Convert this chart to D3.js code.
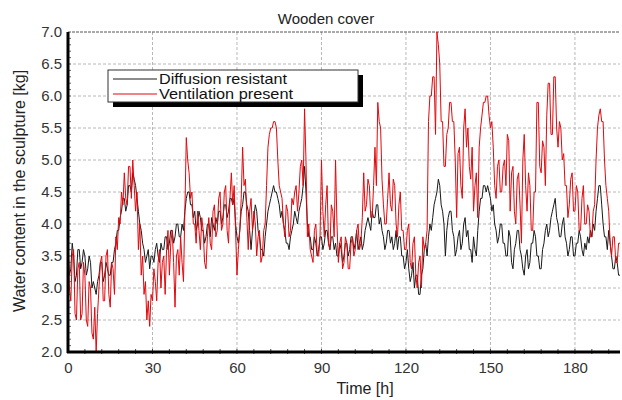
<!DOCTYPE html>
<html>
<head>
<meta charset="utf-8">
<script src="https://cdn.jsdelivr.net/npm/d3@7"></script>
<style>
  body { margin: 0; background: #fff; }
  svg { font-family: "Liberation Sans", Arial, sans-serif; }
</style>
</head>
<body>
<div id="chart"></div>
<script>
// half-hourly samples, t = 0 .. 196 h
const hours = d3.range(0, 196.5, 0.5);

const diffusionResistant = [
  3.6, 3.2, 3.3, 3.7, 3.5, 3.1, 3.2, 3.6, 3.6, 3.3,
  3.4, 3.6, 3.5, 3.2, 3.3, 3.5, 3.4, 3.0, 3.1, 3.0,
  2.9, 3.1, 3.2, 3.4, 3.4, 3.1, 3.2, 3.4, 3.3, 3.2,
  3.2, 3.4, 3.4, 3.6, 3.7, 3.9, 3.9, 4.1, 4.2, 4.4,
  4.4, 4.2, 4.3, 4.6, 4.6, 4.5, 4.8, 4.7, 4.6, 4.4,
  4.2, 4.0, 3.9, 3.7, 3.6, 3.4, 3.5, 3.6, 3.3, 3.5,
  3.5, 3.4, 3.6, 3.7, 3.5, 3.4, 3.7, 3.6, 3.6, 3.8,
  3.8, 3.6, 3.7, 3.9, 3.9, 3.7, 3.8, 4.0, 4.0, 3.8,
  3.8, 4.0, 3.9, 4.2, 4.4, 4.5, 4.5, 4.3, 4.3, 4.1,
  4.2, 3.9, 4.0, 4.2, 4.1, 3.9, 3.9, 3.7, 3.8, 4.0,
  4.0, 3.8, 4.1, 4.0, 3.9, 4.1, 4.0, 4.2, 4.2, 4.0,
  4.1, 4.3, 4.3, 4.1, 4.2, 4.4, 4.4, 4.3, 4.4, 4.0,
  3.8, 3.7, 3.9, 4.2, 4.3, 4.5, 4.5, 4.3, 4.2, 3.9,
  3.6, 3.9, 4.1, 4.3, 4.2, 3.9, 3.8, 3.6, 3.6, 3.5,
  3.8, 4.0, 4.2, 4.3, 4.4, 4.5, 4.6, 4.5, 4.5, 4.4,
  4.3, 4.1, 4.2, 4.0, 3.9, 3.7, 3.7, 3.6, 3.8, 3.9,
  4.0, 4.2, 4.1, 4.0, 4.2, 4.3, 4.4, 4.6, 4.9, 4.5,
  4.0, 3.8, 3.8, 3.6, 3.6, 3.8, 3.7, 3.5, 3.6, 3.8,
  3.8, 3.6, 3.7, 3.9, 3.9, 3.7, 3.6, 3.8, 3.8, 3.6,
  3.7, 3.5, 3.5, 3.7, 3.6, 3.4, 3.5, 3.7, 3.7, 3.5,
  3.6, 3.8, 3.8, 3.6, 3.7, 3.9, 3.6, 3.7, 3.8, 3.6,
  3.7, 3.9, 4.0, 4.1, 4.0, 3.9, 4.2, 4.1, 4.1, 4.3,
  4.3, 4.0, 4.1, 3.9, 3.8, 3.6, 3.7, 3.9, 3.9, 3.7,
  3.8, 3.6, 3.7, 3.9, 3.6, 3.8, 3.8, 3.5, 3.5, 3.3,
  3.4, 3.6, 3.3, 3.1, 3.2, 3.4, 3.0, 3.2, 3.2, 2.9,
  2.9, 3.2, 3.3, 3.6, 3.7, 3.5, 3.8, 4.0, 3.9, 4.1,
  4.3, 4.4, 4.5, 4.7, 4.6, 4.3, 4.2, 4.0, 3.5, 3.9,
  4.1, 4.2, 4.2, 3.9, 3.8, 3.5, 3.6, 3.8, 3.9, 3.6,
  3.7, 4.0, 4.1, 3.8, 3.9, 3.6, 3.6, 3.4, 3.8, 3.6,
  3.5, 3.9, 4.2, 4.4, 4.4, 4.6, 4.6, 4.5, 4.6, 4.5,
  4.4, 4.2, 4.3, 4.0, 3.9, 3.7, 3.8, 4.0, 4.0, 3.7,
  3.7, 3.5, 3.5, 3.9, 3.8, 3.4, 3.3, 3.6, 3.7, 3.9,
  3.9, 3.6, 3.5, 3.3, 3.2, 3.5, 3.6, 3.3, 3.4, 3.7,
  3.7, 3.9, 3.8, 3.5, 3.5, 3.3, 3.3, 3.6, 3.7, 3.9,
  4.0, 3.8, 3.9, 4.1, 4.2, 4.3, 4.4, 4.1, 4.0, 3.8,
  3.8, 4.0, 4.1, 3.8, 3.7, 3.5, 3.6, 3.8, 3.8, 3.5,
  3.5, 3.7, 3.7, 3.9, 3.8, 3.6, 3.5, 3.7, 3.6, 3.8,
  3.7, 3.9, 3.8, 4.0, 3.9, 4.2, 4.4, 4.6, 4.6, 4.3,
  4.0, 3.8, 3.8, 3.6, 3.9, 3.7, 3.5, 3.3, 3.3, 3.5,
  3.4, 3.2, 3.2
];

const ventilationPresent = [
  3.9, 3.0, 2.8, 3.5, 3.6, 2.6, 2.5, 3.3, 3.4, 2.5,
  2.6, 3.4, 3.2, 2.5, 2.4, 3.1, 3.0, 2.3, 2.2, 2.7,
  2.0, 2.6, 3.0, 3.4, 3.5, 2.8, 2.8, 3.5, 3.6, 2.9,
  2.7, 3.4, 3.3, 2.9, 3.8, 3.6, 4.1, 4.0, 4.5, 4.3,
  4.8, 4.4, 4.3, 4.9, 4.9, 4.4, 5.0, 4.6, 4.2, 4.5,
  3.6, 4.0, 3.2, 3.5, 2.9, 3.1, 2.5, 2.8, 2.4, 2.9,
  2.8, 3.3, 3.1, 2.8, 3.4, 3.6, 3.0, 3.4, 3.5, 2.9,
  3.6, 3.9, 3.2, 3.7, 3.9, 3.4, 2.7, 3.5, 3.6, 3.2,
  3.8, 3.4, 3.1, 4.2, 5.35, 5.0, 4.8, 4.4, 4.5, 4.0,
  4.0, 3.7, 4.2, 3.9, 3.6, 4.1, 3.9, 3.4, 3.3, 3.8,
  4.1, 3.7, 3.6, 4.2, 4.3, 3.8, 3.9, 4.4, 4.5, 3.9,
  4.0, 4.5, 4.6, 3.9, 3.7, 4.4, 4.8, 4.3, 4.6, 3.9,
  3.2, 3.6, 3.9, 4.4, 5.2, 4.6, 4.7, 4.1, 3.6, 4.2,
  4.4, 3.9, 4.2, 4.0, 3.5, 3.8, 3.9, 3.4, 3.5, 3.9,
  4.0, 4.6, 5.2, 5.4, 5.5, 5.5, 5.6, 5.6, 5.5, 5.0,
  4.6, 4.5, 4.4, 4.0, 3.8, 4.3, 4.2, 3.8, 3.9, 4.4,
  4.3, 4.5, 4.6, 4.2, 4.5, 4.9, 5.0, 4.6, 5.8, 5.0,
  3.8, 4.0, 3.6, 3.5, 3.4, 3.9, 4.0, 3.5, 3.5, 3.8,
  5.0, 4.2, 3.8, 4.3, 4.6, 3.7, 3.6, 4.3, 4.2, 3.8,
  5.0, 4.0, 3.4, 3.7, 3.8, 3.3, 3.4, 3.8, 3.7, 3.3,
  3.3, 3.7, 3.8, 3.5, 3.6, 3.9, 4.0, 3.6, 3.7, 4.1,
  4.8, 4.2, 4.3, 4.7, 4.6, 4.1, 4.1, 4.6, 5.2, 4.6,
  5.9, 5.6, 5.5, 4.7, 4.3, 4.0, 4.0, 4.4, 4.8, 4.3,
  4.2, 4.7, 4.6, 4.0, 3.8, 4.3, 4.5, 3.9, 3.9, 3.6,
  3.6, 3.9, 4.0, 3.4, 3.3, 3.7, 3.8, 3.2, 3.0, 3.4,
  3.5, 3.0, 3.8, 3.6, 3.7, 3.9, 5.6, 6.0, 6.0, 6.3,
  6.3, 5.4, 7.0, 6.8, 6.5, 5.6, 5.6, 4.9, 4.9, 5.4,
  5.5, 5.9, 5.9, 5.6, 5.6, 5.0, 4.1, 5.1, 5.2, 4.6,
  4.4, 5.5, 5.8, 5.2, 5.5, 4.9, 4.7, 5.2, 4.2, 4.6,
  4.8, 4.1, 5.2, 5.5, 5.7, 5.9, 5.9, 6.0, 6.0, 5.7,
  5.5, 5.6, 5.2, 4.6, 4.4, 4.9, 5.0, 4.5, 4.5, 4.9,
  5.0, 4.6, 5.4, 5.3, 4.2, 4.8, 4.9, 4.2, 4.0, 4.7,
  4.8, 4.3, 3.7, 5.0, 5.4, 4.6, 4.2, 4.8, 4.6, 3.9,
  3.9, 4.5, 4.5, 5.9, 5.9, 4.9, 4.8, 5.3, 5.2, 4.6,
  5.7, 6.2, 6.2, 5.4, 5.4, 6.3, 6.3, 5.5, 5.2, 5.6,
  5.5, 5.0, 5.1, 4.6, 4.6, 4.1, 4.3, 4.7, 4.8, 4.2,
  4.2, 4.6, 4.5, 3.9, 3.9, 4.4, 4.6, 4.0, 4.0, 4.3,
  4.2, 3.8, 3.8, 4.2, 4.3, 5.0, 5.5, 5.7, 5.8, 5.6,
  5.6, 5.0, 4.6, 4.4, 4.2, 3.7, 3.5, 3.8, 3.8, 3.4,
  3.4, 3.7, 3.7
];

const xTicks = [0, 30, 60, 90, 120, 150, 180];
const yTicks = [2.0, 2.5, 3.0, 3.5, 4.0, 4.5, 5.0, 5.5, 6.0, 6.5, 7.0];
const seriesNames = ["Diffusion resistant", "Ventilation present"];
const seriesColors = ["#1a1a1a", "#e3080d"];

const W = 622, H = 400;
const margin = { top: 32, right: 2, bottom: 48, left: 68 };
const width = W - margin.left - margin.right,
      height = H - margin.top - margin.bottom;

const svg = d3.select("#chart").append("svg")
    .attr("width", W)
    .attr("height", H);

const g = svg.append("g")
    .attr("transform", `translate(${margin.left},${margin.top})`);

const x = d3.scaleLinear().domain([0, 196]).range([0, width]);
const y = d3.scaleLinear().domain([2, 7]).range([height, 0]);

// dashed grid
g.append("g")
    .selectAll("line")
    .data(xTicks.filter(d => d > 0))
    .enter().append("line")
    .attr("x1", d => x(d)).attr("x2", d => x(d))
    .attr("y1", 0).attr("y2", height)
    .attr("stroke", "#b8b8b8")
    .attr("stroke-dasharray", "3,2");

g.append("g")
    .selectAll("line")
    .data(yTicks.filter(d => d > 2 && d < 7))
    .enter().append("line")
    .attr("x1", 0).attr("x2", width)
    .attr("y1", d => y(d)).attr("y2", d => y(d))
    .attr("stroke", "#b8b8b8")
    .attr("stroke-dasharray", "3,2");

// top border
g.append("line")
    .attr("x1", 0).attr("x2", width)
    .attr("y1", 0).attr("y2", 0)
    .attr("stroke", "#555")
    .attr("stroke-dasharray", "3,1");

// series
const line = d3.line()
    .x((d, i) => x(hours[i]))
    .y(d => y(d));

[diffusionResistant, ventilationPresent].forEach((vals, k) => {
    g.append("path")
        .datum(vals)
        .attr("fill", "none")
        .attr("stroke", seriesColors[k])
        .attr("stroke-width", 1)
        .attr("stroke-linejoin", "round")
        .attr("d", line);
});

// axes
const xAxis = g.append("g")
    .attr("transform", `translate(0,${height})`)
    .call(d3.axisBottom(x).tickValues(xTicks).tickSize(0).tickPadding(10));
xAxis.select(".domain").remove();

const yAxis = g.append("g")
    .call(d3.axisLeft(y).tickValues(yTicks).tickFormat(d3.format(".1f")).tickSize(0).tickPadding(6));
yAxis.select(".domain").remove();

[xAxis, yAxis].forEach(a => a.selectAll("text")
    .attr("font-family", "'Liberation Sans', Arial, sans-serif")
    .attr("font-size", 15)
    .attr("fill", "#333"));

// minor ticks
g.append("g")
    .selectAll("line")
    .data(d3.range(6, 196, 6))
    .enter().append("line")
    .attr("x1", d => x(d)).attr("x2", d => x(d))
    .attr("y1", height - 3).attr("y2", height + 2)
    .attr("stroke", "#444");

g.append("g")
    .selectAll("line")
    .data(d3.range(21, 70, 1).map(d => d / 10))
    .enter().append("line")
    .attr("x1", 0).attr("x2", 3)
    .attr("y1", d => y(d)).attr("y2", d => y(d))
    .attr("stroke", "#666");

// thick axis lines
g.append("line")
    .attr("x1", 0).attr("x2", 0)
    .attr("y1", 0).attr("y2", height + 1)
    .attr("stroke", "#000").attr("stroke-width", 3);
g.append("line")
    .attr("x1", -1).attr("x2", width)
    .attr("y1", height).attr("y2", height)
    .attr("stroke", "#000").attr("stroke-width", 3);

// title and axis labels
svg.append("text")
    .attr("x", 326).attr("y", 24)
    .attr("text-anchor", "middle")
    .attr("font-size", 15)
    .attr("fill", "#222")
    .text("Wooden cover");

svg.append("text")
    .attr("x", 365).attr("y", 394)
    .attr("text-anchor", "middle")
    .attr("font-size", 16)
    .attr("fill", "#222")
    .text("Time [h]");

svg.append("text")
    .attr("transform", "translate(25,191) rotate(-90)")
    .attr("text-anchor", "middle")
    .attr("font-size", 16)
    .attr("fill", "#222")
    .text("Water content in the sculpture [kg]");

// legend
const legend = svg.append("g").attr("transform", "translate(108,70)");
legend.append("rect")
    .attr("x", 5).attr("y", 5)
    .attr("width", 250).attr("height", 32)
    .attr("fill", "#000");
legend.append("rect")
    .attr("width", 250).attr("height", 32)
    .attr("fill", "#fff")
    .attr("stroke", "#333");

const legendTextLen = [128, 134];
seriesNames.forEach((name, i) => {
    legend.append("line")
        .attr("x1", 5).attr("x2", 49)
        .attr("y1", 9 + i * 15).attr("y2", 9 + i * 15)
        .attr("stroke", seriesColors[i])
        .attr("stroke-width", 1.2);
    legend.append("text")
        .attr("x", 51).attr("y", 14 + i * 15)
        .attr("font-size", 14.5)
        .attr("textLength", legendTextLen[i])
        .attr("lengthAdjust", "spacingAndGlyphs")
        .attr("fill", "#111")
        .text(name);
});
</script>
</body>
</html>
